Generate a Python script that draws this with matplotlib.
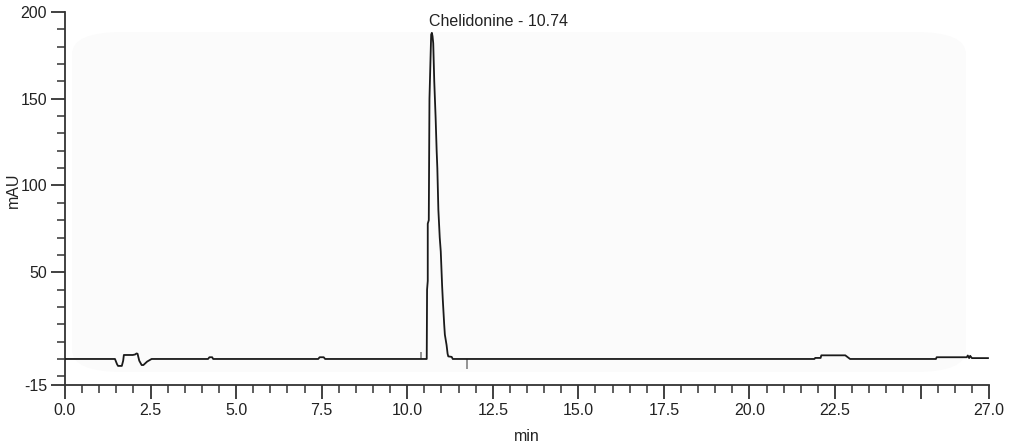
import matplotlib.pyplot as plt
import numpy as np
from matplotlib.patches import FancyBboxPatch
from matplotlib.ticker import FixedLocator, FixedFormatter

plt.rcParams['font.family'] = ['Liberation Sans', 'DejaVu Sans']
plt.rcParams['axes.unicode_minus'] = False

# chromatogram trace (min, mAU)
zeit = [0.0, 1.46, 1.52, 1.55, 1.66, 1.70, 1.72, 1.98, 2.05, 2.09, 2.12,
        2.17, 2.24, 2.29, 2.40, 2.53, 4.18, 4.22, 4.30, 4.33, 7.40, 7.44,
        7.56, 7.60, 10.57, 10.58, 10.60, 10.60, 10.63, 10.65, 10.69, 10.70,
        10.72, 10.74, 10.76, 10.79, 10.83, 10.86, 10.88, 10.91, 10.95, 10.98,
        11.02, 11.04, 11.08, 11.10, 11.15, 11.18, 11.20, 11.30, 11.33, 21.90,
        21.92, 22.08, 22.10, 22.80, 22.94, 25.45, 25.47, 26.35, 26.38, 26.42,
        26.45, 26.50, 26.97]
mau = [0.0, 0.0, -3.0, -4.0, -4.0, -1.0, 2.3, 2.3, 2.6, 3.2, 3.0,
       -1.0, -3.5, -3.5, -1.5, 0.0, 0.0, 1.0, 1.0, 0.0, 0.0, 1.0,
       1.0, 0.0, 0.0, 40.0, 45.0, 78.0, 80.0, 150.0, 180.0, 187.0,
       188.0, 186.0, 182.0, 160.0, 139.0, 120.0, 110.0, 86.0, 70.0, 62.0,
       42.0, 34.0, 20.0, 14.0, 8.0, 3.0, 1.5, 1.2, 0.0, 0.0,
       0.6, 0.6, 2.1, 2.1, 0.0, 0.0, 1.0, 1.0, 2.0, 0.5,
       1.8, 0.5, 0.5]

# integration markers
marker_t = [10.40, 11.75]
marker_lo = [0.0, -6.0]
marker_hi = [4.0, 0.0]

peak_name = "Chelidonine"
peak_rt = 10.74
peak_label_x = 10.65

x_major = [0.0, 2.5, 5.0, 7.5, 10.0, 12.5, 15.0, 17.5, 20.0, 22.5, 25.0, 27.0]
x_labels = ["0.0", "2.5", "5.0", "7.5", "10.0", "12.5", "15.0", "17.5",
            "20.0", "22.5", "", "27.0"]
y_major = [-15, 50, 100, 150, 200]

fig = plt.figure(figsize=(10.14, 4.44), dpi=100)
ax = fig.add_axes([65 / 1014, 1 - 385 / 444, 924 / 1014, 373 / 444])
ax.set_facecolor('none')

# faint grey scan area behind the plot
bg = FancyBboxPatch((72 / 1014, 1 - 372 / 444), 894 / 1014, 340 / 444,
                    boxstyle="round,pad=0,rounding_size=0.05",
                    transform=fig.transFigure, facecolor='#fbfbfb',
                    edgecolor='none', zorder=0)
ax.add_patch(bg)

ax.plot(zeit, mau, color='#1a1a1a', lw=1.3, zorder=3)
ax.vlines(marker_t, marker_lo, marker_hi, color='#777777', lw=1.1, zorder=2)

ax.text(peak_label_x, 199, f"{peak_name} - {peak_rt:.2f}", fontsize=11.5,
        ha='left', va='top', color='#222222')

ax.set_xlim(0, 27)
ax.set_ylim(-15, 200)

ax.xaxis.set_major_locator(FixedLocator(x_major))
ax.xaxis.set_major_formatter(FixedFormatter(x_labels))
ax.xaxis.set_minor_locator(FixedLocator(
    [v for v in np.arange(0.5, 27.0, 0.5) if v % 2.5 != 0]))
ax.yaxis.set_major_locator(FixedLocator(y_major))
ax.yaxis.set_minor_locator(FixedLocator(
    [v for v in range(-10, 200, 10) if v not in y_major]))

for s in ['top', 'right']:
    ax.spines[s].set_visible(False)
for s in ['left', 'bottom']:
    ax.spines[s].set_color('#333333')
    ax.spines[s].set_linewidth(1.3)

ax.tick_params(which='major', length=10, width=1.3, color='#333333',
               labelsize=11.5, labelcolor='#222222')
ax.tick_params(which='minor', length=6, width=1.1, color='#333333')
ax.tick_params(axis='x', which='major', pad=3)
ax.tick_params(axis='y', which='major', pad=3)

ax.set_xlabel("min", fontsize=11.5, color='#222222', labelpad=8)
ax.set_ylabel("mAU", fontsize=11.5, color='#222222')
ax.yaxis.set_label_coords(-44 / 924, 195 / 373)

fig.savefig("out.png", dpi=100)
